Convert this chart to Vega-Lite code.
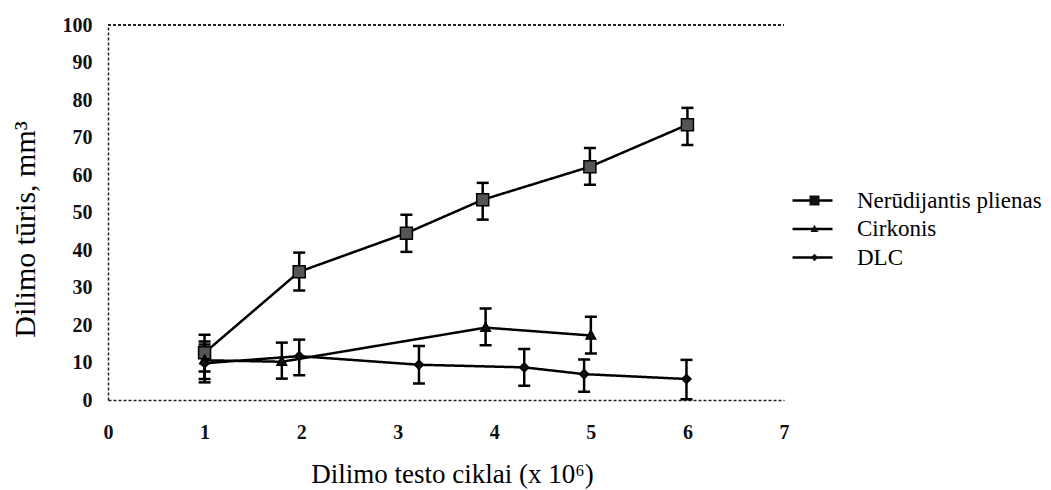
{
  "$schema": "https://vega.github.io/schema/vega-lite/v6.json",
  "autosize": "none",
  "width": 676,
  "height": 375,
  "padding": {"left": 108, "top": 25, "right": 267, "bottom": 90},
  "background": "white",
  "config": {"view": {"stroke": null}},
  "datasets": {
    "pts": [
      {"series": "Nerūdijantis plienas", "x": 1.0, "y": 12.6, "lo": 7.6, "hi": 17.4},
      {"series": "Nerūdijantis plienas", "x": 1.98, "y": 34.2, "lo": 29.2, "hi": 39.3},
      {"series": "Nerūdijantis plienas", "x": 3.09, "y": 44.5, "lo": 39.5, "hi": 49.4},
      {"series": "Nerūdijantis plienas", "x": 3.88, "y": 53.4, "lo": 48.1, "hi": 57.9},
      {"series": "Nerūdijantis plienas", "x": 4.99, "y": 62.2, "lo": 57.4, "hi": 67.2},
      {"series": "Nerūdijantis plienas", "x": 6.0, "y": 73.4, "lo": 68.0, "hi": 77.9},
      {"series": "Cirkonis", "x": 1.0, "y": 10.6, "lo": 5.6, "hi": 15.6},
      {"series": "Cirkonis", "x": 1.8, "y": 10.2, "lo": 5.7, "hi": 15.3},
      {"series": "Cirkonis", "x": 3.91, "y": 19.3, "lo": 14.6, "hi": 24.4},
      {"series": "Cirkonis", "x": 5.0, "y": 17.2, "lo": 12.4, "hi": 22.2},
      {"series": "DLC", "x": 1.0, "y": 9.8, "lo": 4.7, "hi": 14.8},
      {"series": "DLC", "x": 1.98, "y": 11.7, "lo": 6.6, "hi": 16.1},
      {"series": "DLC", "x": 3.22, "y": 9.4, "lo": 4.4, "hi": 14.4},
      {"series": "DLC", "x": 4.31, "y": 8.7, "lo": 3.8, "hi": 13.6},
      {"series": "DLC", "x": 4.93, "y": 6.9, "lo": 2.2, "hi": 10.8},
      {"series": "DLC", "x": 5.99, "y": 5.6, "lo": 0.2, "hi": 10.7}
    ]
  },
  "data": {"name": "pts"},
  "encoding": {
    "x": {
      "field": "x", "type": "quantitative",
      "scale": {"domain": [0, 7], "nice": false, "zero": false},
      "axis": {
        "values": [0, 1, 2, 3, 4, 5, 6, 7],
        "grid": false, "ticks": false, "tickSize": 0,
        "domain": true, "domainColor": "#222", "domainWidth": 1.5, "domainDash": [3, 2],
        "labelFont": "Liberation Serif", "labelFontWeight": "bold", "labelFontSize": 20,
        "labelColor": "#111", "labelPadding": 22, "labelBaseline": "top",
        "labelFlush": false,
        "title": "Dilimo testo ciklai (x 10⁶)",
        "titleFont": "Liberation Serif", "titleFontWeight": "normal", "titleFontSize": 27,
        "titleColor": "#000", "titleX": 344, "titleY": 82, "titleBaseline": "alphabetic", "titleAnchor": null, "titleAlign": "center"
      }
    },
    "y": {
      "field": "y", "type": "quantitative",
      "scale": {"domain": [0, 100], "nice": false},
      "axis": {
        "values": [0, 10, 20, 30, 40, 50, 60, 70, 80, 90, 100],
        "grid": false, "ticks": false, "tickSize": 0,
        "domain": true, "domainColor": "#222", "domainWidth": 1.5, "domainDash": [3, 2],
        "labelFont": "Liberation Serif", "labelFontWeight": "bold", "labelFontSize": 20,
        "labelColor": "#111", "labelPadding": 16, "labelBaseline": "middle", "labelFlush": false,
        "title": "Dilimo tūris, mm³",
        "titleFont": "Liberation Serif", "titleFontWeight": "normal", "titleFontSize": 30,
        "titleColor": "#000", "titleX": -83, "titleY": 204, "titleAngle": -90,
        "titleBaseline": "middle", "titleAlign": "center", "titleAnchor": null
      }
    }
  },
  "layer": [
    {
      "mark": {"type": "rule", "stroke": "#222", "strokeWidth": 1.5, "strokeDash": [3, 2]},
      "encoding": {"y": {"datum": 100}, "x": {"datum": 0}, "x2": {"datum": 7}}
    },
    {
      "mark": {"type": "line", "stroke": "black", "strokeWidth": 2.5},
      "encoding": {
        "detail": {"field": "series"},
        "strokeDash": {
          "field": "series", "type": "nominal",
          "sort": ["Nerūdijantis plienas", "Cirkonis", "DLC"],
          "scale": {"range": [[1, 0], [1, 0], [1, 0]]},
          "legend": {
            "orient": "none", "legendX": 693, "legendY": 164,
            "title": null, "padding": 0,
            "symbolType": "M-2,0L2,0", "symbolSize": 400,
            "symbolStrokeColor": "black", "symbolStrokeWidth": 2.5, "symbolFillColor": "transparent",
            "labelFont": "Liberation Serif", "labelFontSize": 23, "labelColor": "#000",
            "labelOffset": 30, "rowPadding": 4.5, "labelLimit": 400,
            "labelExpr": "''"
          }
        }
      }
    },
    {
      "mark": {"type": "rule", "stroke": "black", "strokeWidth": 2.5},
      "encoding": {"y": {"field": "lo", "type": "quantitative"}, "y2": {"field": "hi"}}
    },
    {
      "mark": {"type": "tick", "orient": "horizontal", "color": "black", "size": 12, "thickness": 2.5, "opacity": 1},
      "encoding": {"y": {"field": "lo", "type": "quantitative"}}
    },
    {
      "mark": {"type": "tick", "orient": "horizontal", "color": "black", "size": 12, "thickness": 2.5, "opacity": 1},
      "encoding": {"y": {"field": "hi", "type": "quantitative"}}
    },
    {
      "mark": {"type": "point", "filled": true, "opacity": 1, "stroke": "black", "strokeWidth": 1.5, "size": 144},
      "encoding": {
        "shape": {
          "field": "series", "type": "nominal",
          "scale": {
            "domain": ["Nerūdijantis plienas", "Cirkonis", "DLC"],
            "range": ["M-1,-1L1,-1L1,1L-1,1Z", "M0,-0.85L0.8,0.6L-0.8,0.6Z", "M0,-0.75L0.75,0L0,0.75L-0.75,0Z"]
          },
          "legend": {
            "orient": "none", "legendX": 695, "legendY": 164,
            "title": null, "padding": 0,
            "symbolSize": 100, "symbolStrokeWidth": 1.5,
            "symbolFillColor": "black", "symbolStrokeColor": "black",
            "labelFont": "Liberation Serif", "labelFontSize": 23, "labelColor": "#000",
            "labelOffset": 31, "rowPadding": 4.5, "labelLimit": 400
          }
        },
        "fill": {
          "condition": {"test": "datum.series === 'Nerūdijantis plienas'", "value": "#555555"},
          "value": "#111111"
        }
      }
    }
  ]
}
